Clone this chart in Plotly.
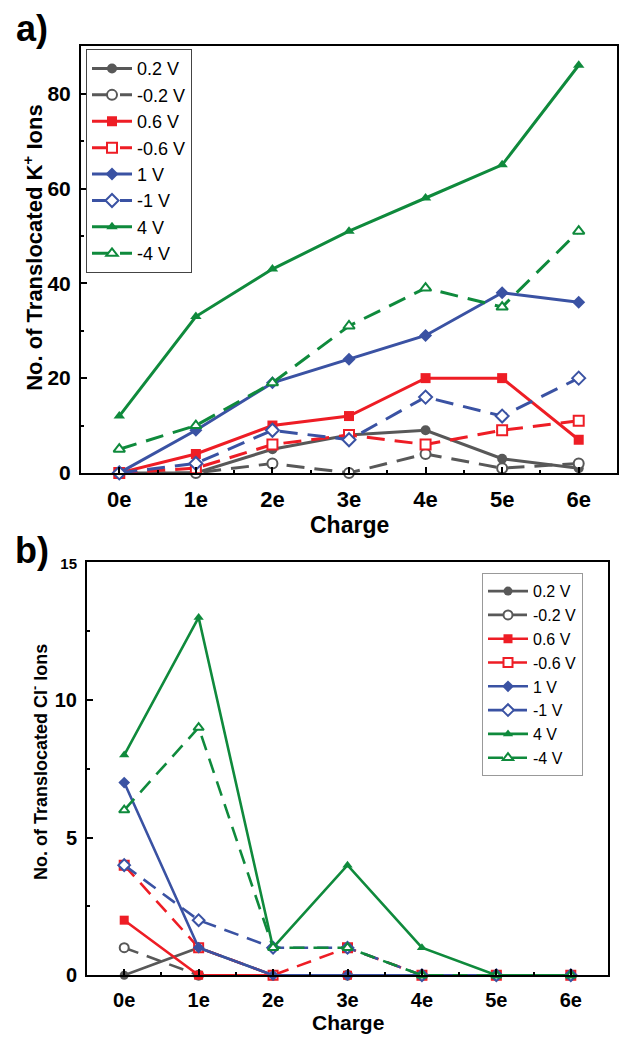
import plotly.graph_objects as go

charges = ["0e", "1e", "2e", "3e", "4e", "5e", "6e"]
labels = ["0.2 V", "-0.2 V", "0.6 V", "-0.6 V", "1 V", "-1 V", "4 V", "-4 V"]

# Panel a: translocated K+ ions
k_p02 = [0, 0, 5, 8, 9, 3, 1]
k_m02 = [0, 0, 2, 0, 4, 1, 2]
k_p06 = [0, 4, 10, 12, 20, 20, 7]
k_m06 = [0, 1, 6, 8, 6, 9, 11]
k_p1 = [0, 9, 19, 24, 29, 38, 36]
k_m1 = [0, 2, 9, 7, 16, 12, 20]
k_p4 = [12, 33, 43, 51, 58, 65, 86]
k_m4 = [5, 10, 19, 31, 39, 35, 51]

# Panel b: translocated Cl- ions
c_p02 = [0, 1, 0, 0, 0, 0, 0]
c_m02 = [1, 0, 0, 0, 0, 0, 0]
c_p06 = [2, 0, 0, 0, 0, 0, 0]
c_m06 = [4, 1, 0, 1, 0, 0, 0]
c_p1 = [7, 1, 0, 0, 0, 0, 0]
c_m1 = [4, 2, 1, 1, 0, 0, 0]
c_p4 = [8, 13, 1, 4, 1, 0, 0]
c_m4 = [6, 9, 1, 1, 0, 0, 0]

k_series = [k_p02, k_m02, k_p06, k_m06, k_p1, k_m1, k_p4, k_m4]
c_series = [c_p02, c_m02, c_p06, c_m06, c_p1, c_m1, c_p4, c_m4]

colors = ["#585858", "#585858", "#ee1d25", "#ee1d25", "#3a52a3", "#3a52a3", "#0f8a3c", "#0f8a3c"]
symbols = ["circle", "circle", "square", "square", "diamond", "diamond", "triangle-up", "triangle-up"]
filled = [True, False, True, False, True, False, True, False]

FONT = "Liberation Sans, Arial, sans-serif"
W, H = 621, 1057
xpos = list(range(len(charges)))

fig = go.Figure()

def add_panel(series, xa, ya, legend, msize, lw, dash):
    for i, ys in enumerate(series):
        c = colors[i]
        fig.add_trace(go.Scatter(
            x=xpos, y=ys, name=labels[i], mode="lines+markers",
            xaxis=xa, yaxis=ya, legend=legend,
            line=dict(color=c, width=lw, dash=None if filled[i] else dash),
            marker=dict(symbol=symbols[i], size=msize,
                        color=c if filled[i] else "white",
                        line=dict(color=c, width=0 if filled[i] else 2)),
            cliponaxis=False,
        ))

add_panel(k_series, "x", "y", "legend", 10, 3, "18px,10px")
add_panel(c_series, "x2", "y2", "legend2", 9, 2.6, "15px,9px")

def px_x(p):
    return p / W

def px_y(p):
    return 1 - p / H

axis_common = dict(
    showline=True, linecolor="black", linewidth=2, mirror=True,
    ticks="inside", tickcolor="black", tickwidth=2, ticklen=6,
    showgrid=False, zeroline=False,
)

fig.update_layout(
    width=W, height=H,
    margin=dict(l=0, r=0, t=0, b=0),
    paper_bgcolor="white", plot_bgcolor="white",
    font=dict(family=FONT, color="black"),
    xaxis=dict(**axis_common, domain=[px_x(81), px_x(617)], anchor="y",
               range=[-0.5, 6.5], tickvals=xpos, ticktext=charges,
               minor=dict(ticks="inside", ticklen=3, tickwidth=2, tickcolor="black", dtick=0.5, tick0=0),
               tickfont=dict(size=22, family=FONT, weight="bold"), ticklabelstandoff=6),
    yaxis=dict(**axis_common, domain=[px_y(474), px_y(40)], anchor="x",
               range=[0, 90], tickvals=[0, 20, 40, 60, 80],
               minor=dict(ticks="inside", ticklen=3, tickwidth=2, tickcolor="black", dtick=10, tick0=0),
               tickfont=dict(size=21, family=FONT, weight="bold"), ticklabelstandoff=4),
    xaxis2=dict(**axis_common, domain=[px_x(87), px_x(608)], anchor="y2",
                range=[-0.5, 6.5], tickvals=xpos, ticktext=charges,
                minor=dict(ticks="inside", ticklen=3, tickwidth=2, tickcolor="black", dtick=0.5, tick0=0),
                tickfont=dict(size=20, family=FONT, weight="bold"), ticklabelstandoff=6),
    yaxis2=dict(**axis_common, domain=[px_y(985), px_y(565)], anchor="x2",
                range=[0, 15], tickvals=[0, 5, 10, 15],
                ticktext=["0", "5", "10", "<span style='font-size:15px'>15</span>"],
                minor=dict(ticks="inside", ticklen=3, tickwidth=2, tickcolor="black", dtick=2.5, tick0=0),
                tickfont=dict(size=20, family=FONT, weight="bold"), ticklabelstandoff=4),
    legend=dict(x=px_x(86), y=px_y(43), xanchor="left", yanchor="top",
                bgcolor="white", bordercolor="#444", borderwidth=1,
                font=dict(size=18, family=FONT), tracegroupgap=0, itemwidth=40),
    legend2=dict(x=px_x(482), y=px_y(576), xanchor="left", yanchor="top",
                 bgcolor="white", bordercolor="#999", borderwidth=1,
                 font=dict(size=16, family=FONT), tracegroupgap=0, itemwidth=40),
)

annotations = [
    dict(text="<b>a)</b>", x=px_x(32), y=px_y(22), font=dict(size=36)),
    dict(text="<b>b)</b>", x=px_x(32), y=px_y(553), font=dict(size=36)),
    dict(text="<b>Charge</b>", x=px_x(349), y=px_y(527), font=dict(size=23)),
    dict(text="<b>Charge</b>", x=px_x(348), y=px_y(1033), font=dict(size=21)),
    dict(text="<b>No. of Translocated K<sup>+</sup> Ions</b>", x=px_x(33), y=px_y(245),
         font=dict(size=22), textangle=-90),
    dict(text="<b>No. of Translocated Cl<sup>-</sup> Ions</b>", x=px_x(40), y=px_y(768),
         font=dict(size=18), textangle=-90),
]
for a in annotations:
    a.update(xref="paper", yref="paper", showarrow=False, xanchor="center", yanchor="middle")
    a["font"].update(family=FONT, color="black")
fig.update_layout(annotations=annotations)

fig.write_html("out.html")
